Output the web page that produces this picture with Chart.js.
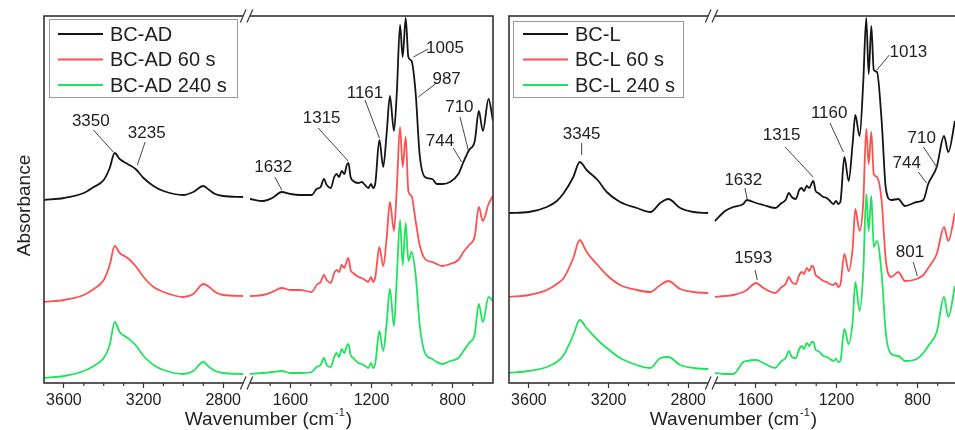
<!DOCTYPE html>
<html>
<head>
<meta charset="utf-8">
<script src="https://cdn.jsdelivr.net/npm/chart.js@4.4.0/dist/chart.umd.min.js"></script>
<style>
  html, body { margin: 0; padding: 0; background: #fff; overflow: hidden; }
  body { width: 955px; height: 430px; position: relative; }
  canvas { position: absolute; top: 0; }
  #chartAD { left: 0; }
  #chartL { left: 500px; }
</style>
</head>
<body>
<canvas id="chartAD" width="500" height="430"></canvas>
<canvas id="chartL" width="470" height="430"></canvas>
<script>
// Series names
const adLabels = ['BC-AD', 'BC-AD 60 s', 'BC-AD 240 s'];
const lLabels = ['BC-L', 'BC-L 60 s', 'BC-L 240 s'];

// BC-AD, O-H / C-H region (cm-1)
const adHiWaves = [3700, 3600, 3500, 3450, 3400, 3370, 3345, 3320, 3280, 3240, 3200, 3150, 3100, 3000, 2950, 2900, 2870, 2840, 2800, 2700];
const adHi0 = [183, 185, 190, 196, 203, 215, 230, 224, 219, 214, 205, 197, 192, 188, 191, 197, 193, 189, 187, 186];
const adHi60 = [81, 83, 88, 94, 103, 118, 137, 130, 125, 117, 106, 96, 91, 86, 89, 99, 96, 91, 88, 87];
const adHi240 = [5, 7, 12, 17, 25, 38, 61, 51, 45, 38, 27, 18, 13, 9, 12, 21, 16, 12, 10, 9];

// BC-AD, fingerprint region
const adLoWaves = [1800, 1736, 1690, 1643, 1600, 1553, 1495, 1471, 1451, 1435, 1421, 1401, 1384, 1372, 1360, 1347, 1334, 1322, 1314, 1303,
                   1290, 1265, 1248, 1232, 1216, 1202, 1192, 1181, 1161, 1142, 1125, 1109, 1089, 1075, 1059, 1046, 1031, 1018, 1002, 982,
                   962, 936, 900, 878, 850, 812, 771, 746, 718, 690, 670, 650, 622, 600];
const adLo0 = [184, 182, 185, 191, 189, 188, 188, 194, 196, 204, 198, 195, 206, 209, 206, 212, 209, 218, 220, 206,
               202, 200, 201, 198, 195, 199, 195, 200, 243, 216, 250, 287, 252, 290, 358, 326, 365, 326, 322, 290,
               228, 206, 204, 199, 199, 201, 209, 221, 233, 242, 272, 252, 284, 262];
const adLo60 = [87, 88, 91, 95, 93, 93, 91, 98, 101, 108, 103, 100, 110, 113, 111, 118, 115, 122, 125, 113,
                110, 106, 105, 103, 101, 106, 101, 106, 136, 117, 145, 181, 152, 195, 256, 216, 246, 192, 187, 162,
                138, 124, 121, 119, 117, 119, 123, 131, 138, 147, 176, 162, 179, 187];
const adLo240 = [9, 10, 11, 12, 10, 10, 11, 16, 18, 25, 18, 16, 26, 30, 26, 34, 30, 37, 39, 28,
                 25, 20, 19, 17, 15, 20, 15, 20, 52, 32, 60, 94, 57, 105, 163, 118, 160, 122, 131, 108,
                 58, 30, 24, 21, 19, 22, 25, 32, 40, 49, 79, 61, 86, 82];

// BC-L, O-H / C-H region
const lHiWaves = [3700, 3600, 3510, 3460, 3425, 3377, 3345, 3310, 3255, 3209, 3142, 3058, 2990, 2940, 2900, 2840, 2773, 2700];
const lHi0 = [170, 171, 176, 182, 190, 206, 221, 213, 203, 191, 181, 175, 171, 180, 184, 175, 171, 170];
const lHi60 = [86, 88, 93, 99, 105, 125, 143, 131, 118, 108, 98, 93, 91, 98, 102, 94, 91, 90];
const lHi240 = [10, 12, 16, 21, 28, 48, 63, 55, 43, 35, 25, 18, 15, 25, 26, 18, 15, 14];

// BC-L, fingerprint region
const lLoWaves = [1800, 1750, 1710, 1660, 1643, 1597, 1561, 1504, 1471, 1451, 1435, 1421, 1401, 1384, 1372, 1360, 1347, 1334, 1322, 1314,
                  1303, 1290, 1265, 1248, 1232, 1216, 1202, 1192, 1181, 1161, 1140, 1120, 1107, 1086, 1068, 1053, 1041, 1028, 1016, 1000,
                  977, 956, 930, 895, 862, 804, 771, 747, 705, 669, 648, 615];
const lLo0 = [162, 172, 176, 179, 183, 180, 178, 175, 180, 183, 190, 186, 184, 193, 195, 192, 197, 195, 200, 202,
              192, 190, 186, 185, 182, 179, 182, 179, 181, 226, 202, 240, 268, 247, 300, 365, 309, 357, 313, 311,
              262, 194, 183, 184, 177, 181, 183, 199, 216, 247, 231, 262];
const lLo60 = [86, 87, 88, 91, 93, 100, 95, 90, 96, 99, 106, 101, 99, 108, 111, 109, 115, 112, 117, 116,
               108, 106, 102, 101, 99, 98, 100, 96, 98, 129, 112, 135, 174, 152, 180, 254, 219, 251, 209, 206,
               182, 122, 106, 111, 102, 104, 108, 115, 129, 156, 142, 170];
const lLo240 = [10, 9, 9, 21, 22, 23, 20, 15, 22, 25, 32, 26, 25, 34, 37, 34, 40, 37, 41, 41,
                33, 32, 27, 26, 24, 22, 24, 21, 22, 54, 39, 62, 101, 72, 110, 189, 152, 187, 136, 142,
                109, 49, 29, 27, 22, 24, 30, 37, 51, 86, 66, 97];

// Tick positions and labelled ticks (cm-1)
const tickWaves = [3600, 3500, 3400, 3300, 3200, 3100, 3000, 2900, 2800,
                   1700, 1600, 1500, 1400, 1300, 1200, 1100, 1000, 900, 800, 700];
const majorWaves = [3600, 3200, 2800, 1600, 1200, 800];

// Peak labels: [text, text wavenumber, text value, line from (w, v), line to (w, v)]
const adPeaks = [
    ['3350', 3465, 262, 3452, 253, 3352, 231],
    ['3235', 3184, 250, 3192, 241, 3231, 218],
    ['1632', 1685, 216, 1677, 206, 1643, 193],
    ['1315', 1446, 265, 1463, 255, 1315, 222],
    ['1161', 1232, 290, 1232, 283, 1161, 245],
    ['1005', 837, 335, 920, 334, 993, 326],
    ['987', 829, 304, 878, 300, 969, 286],
    ['710', 766, 276, 763, 266, 722, 233],
    ['744', 862, 242, 796, 235, 755, 221]
];
const lPeaks = [
    ['3345', 3335, 249, 3335, 240, 3335, 228],
    ['1632', 1660, 203, 1652, 195, 1640, 183],
    ['1315', 1471, 248, 1454, 236, 1315, 206],
    ['1160', 1236, 270, 1232, 260, 1166, 231],
    ['1013', 845, 331, 939, 328, 1001, 313],
    ['710', 779, 245, 771, 236, 705, 216],
    ['744', 853, 220, 796, 211, 755, 200],
    ['1593', 1611, 125, 1602, 113, 1591, 103],
    ['801', 837, 131, 821, 121, 801, 107]
];

const COLORS = ['#151515', '#ff5050', '#1fe35c'];
const FONT = "'Liberation Sans', Arial, sans-serif";

// Broken axis: 3700-2700 then 1800-600, mapped onto one linear scale
const HI_SQUEEZE = 0.983;
const LO_START = 1017;
function toAxis(w) {
    return w >= 2250 ? (3700 - w) * HI_SQUEEZE : LO_START + (1800 - w);
}
function fromAxis(u) {
    return u <= 1000 ? 3700 - u / HI_SQUEEZE : 1800 - (u - LO_START);
}
const AXIS_MAX = toAxis(600);

function isMajor(u) {
    return majorWaves.includes(Math.round(fromAxis(u)));
}

function buildPoints(hiWaves, hiVals, loWaves, loVals) {
    const pts = hiWaves.map((w, i) => ({ x: toAxis(w), y: hiVals[i] }));
    pts.push({ x: (toAxis(2700) + toAxis(1800)) / 2, y: null }); // gap at the break
    loWaves.forEach((w, i) => pts.push({ x: toAxis(w), y: loVals[i] }));
    return pts;
}

function drawBreak(ctx, cx, yy) {
    const k = 0.44, half = 6.5, sep = 3.35;
    const xAt = (off, y) => cx + off - k * (y - yy);
    ctx.fillStyle = '#fff';
    ctx.beginPath();
    ctx.moveTo(xAt(-sep, yy - 2), yy - 2);
    ctx.lineTo(xAt(sep, yy - 2), yy - 2);
    ctx.lineTo(xAt(sep, yy + 2), yy + 2);
    ctx.lineTo(xAt(-sep, yy + 2), yy + 2);
    ctx.closePath();
    ctx.fill();
    ctx.strokeStyle = '#333';
    ctx.lineWidth = 1.2;
    [-sep, sep].forEach(off => {
        ctx.beginPath();
        ctx.moveTo(xAt(off, yy + half), yy + half);
        ctx.lineTo(xAt(off, yy - half), yy - half);
        ctx.stroke();
    });
}

// Frame, minor ticks, axis breaks, peak labels, legend and titles
const spectrumDecor = {
    id: 'spectrumDecor',
    afterDatasetsDraw(chart, args, opts) {
        const { ctx, chartArea: a, scales: { x, y } } = chart;
        ctx.save();

        ctx.strokeStyle = '#333';
        ctx.lineWidth = 1.6;
        ctx.strokeRect(a.left, a.top, a.right - a.left, a.bottom - a.top);

        ctx.lineWidth = 1.2;
        x.ticks.forEach(t => {
            if (isMajor(t.value)) return;
            const px = x.getPixelForValue(t.value);
            ctx.beginPath();
            ctx.moveTo(px, a.bottom);
            ctx.lineTo(px, a.bottom + 3);
            ctx.stroke();
        });

        const cx = (x.getPixelForValue(toAxis(2700)) + x.getPixelForValue(toAxis(1800))) / 2;
        drawBreak(ctx, cx, a.top);
        drawBreak(ctx, cx, a.bottom);

        // peak labels
        ctx.font = '17px ' + FONT;
        ctx.textAlign = 'center';
        ctx.textBaseline = 'middle';
        opts.peaks.forEach(p => {
            const [text, tw, tv, w1, v1, w2, v2] = p;
            ctx.strokeStyle = '#444';
            ctx.lineWidth = 1;
            ctx.beginPath();
            ctx.moveTo(x.getPixelForValue(toAxis(w1)), y.getPixelForValue(v1));
            ctx.lineTo(x.getPixelForValue(toAxis(w2)), y.getPixelForValue(v2));
            ctx.stroke();
            ctx.fillStyle = '#222';
            ctx.fillText(text, x.getPixelForValue(toAxis(tw)), y.getPixelForValue(tv));
        });

        // legend box
        const [dx, dy, lw, lh] = opts.legendBox;
        const lx = a.left + dx, ly = a.top + dy;
        ctx.fillStyle = '#fff';
        ctx.fillRect(lx, ly, lw, lh);
        ctx.strokeStyle = '#999';
        ctx.lineWidth = 1;
        ctx.strokeRect(lx + 0.5, ly + 0.5, lw, lh);
        ctx.font = '20px ' + FONT;
        ctx.textAlign = 'left';
        chart.data.datasets.forEach((ds, i) => {
            const ry = a.top + 18 + i * 25.5;
            ctx.strokeStyle = ds.borderColor;
            ctx.lineWidth = 2;
            ctx.beginPath();
            ctx.moveTo(a.left + 14, ry);
            ctx.lineTo(a.left + 59, ry);
            ctx.stroke();
            ctx.fillStyle = '#222';
            ctx.fillText(ds.label, a.left + 66, ry + 1);
        });

        // x title with superscript
        const main = 'Wavenumber (cm', sup = '-1', end = ')';
        ctx.font = '19px ' + FONT;
        const w1 = ctx.measureText(main).width, w3 = ctx.measureText(end).width;
        ctx.font = '11px ' + FONT;
        const w2 = ctx.measureText(sup).width + 2;
        const tx = (a.left + a.right) / 2 - (w1 + w2 + w3) / 2;
        const base = a.bottom + 42;
        ctx.textBaseline = 'alphabetic';
        ctx.fillStyle = '#222';
        ctx.font = '19px ' + FONT;
        ctx.fillText(main, tx, base);
        ctx.font = '11px ' + FONT;
        ctx.fillText(sup, tx + w1 + 1, base - 9);
        ctx.font = '19px ' + FONT;
        ctx.fillText(end, tx + w1 + w2, base);

        if (opts.yTitle) {
            ctx.translate(a.left - 19, (a.top + a.bottom) / 2 + 6);
            ctx.rotate(-Math.PI / 2);
            ctx.textAlign = 'center';
            ctx.textBaseline = 'middle';
            ctx.fillText(opts.yTitle, 0, 0);
        }
        ctx.restore();
    }
};

function makeChart(id, labels, seriesPoints, peaks, padding, legendBox, yTitle) {
    const ctx = document.getElementById(id).getContext('2d');
    return new Chart(ctx, {
        type: 'line',
        data: {
            datasets: seriesPoints.map((pts, i) => ({
                label: labels[i],
                data: pts,
                borderColor: COLORS[i],
                borderWidth: 1.8,
                pointRadius: 0,
                cubicInterpolationMode: 'monotone',
                fill: false
            }))
        },
        options: {
            responsive: false,
            animation: false,
            layout: { padding: padding },
            plugins: {
                legend: { display: false },
                tooltip: { enabled: false },
                spectrumDecor: { peaks: peaks, legendBox: legendBox, yTitle: yTitle }
            },
            scales: {
                x: {
                    type: 'linear',
                    min: 0,
                    max: AXIS_MAX,
                    afterFit: scale => { scale.height = 47; },
                    afterBuildTicks: scale => {
                        scale.ticks = tickWaves.map(w => ({ value: toAxis(w) }));
                    },
                    border: { display: false },
                    grid: {
                        drawOnChartArea: false,
                        tickLength: 5,
                        tickWidth: 1.2,
                        tickColor: c => (c.tick && isMajor(c.tick.value)) ? '#333' : 'rgba(0,0,0,0)'
                    },
                    ticks: {
                        autoSkip: false,
                        maxRotation: 0,
                        padding: 3,
                        color: '#222',
                        font: { family: FONT, size: 16 },
                        callback: v => {
                            const w = Math.round(fromAxis(v));
                            return majorWaves.includes(w) ? String(w) : '';
                        }
                    }
                },
                y: { display: false, min: 0, max: 367 }
            }
        },
        plugins: [spectrumDecor]
    });
}

makeChart('chartAD', adLabels, [
    buildPoints(adHiWaves, adHi0, adLoWaves, adLo0),
    buildPoints(adHiWaves, adHi60, adLoWaves, adLo60),
    buildPoints(adHiWaves, adHi240, adLoWaves, adLo240)
], adPeaks, { left: 44, top: 16, right: 7, bottom: 0 }, [5, 3, 188, 78], 'Absorbance');

makeChart('chartL', lLabels, [
    buildPoints(lHiWaves, lHi0, lLoWaves, lLo0),
    buildPoints(lHiWaves, lHi60, lLoWaves, lLo60),
    buildPoints(lHiWaves, lHi240, lLoWaves, lLo240)
], lPeaks, { left: 9, top: 16, right: 12, bottom: 0 }, [4, 5, 170, 76], null);
</script>
</body>
</html>
